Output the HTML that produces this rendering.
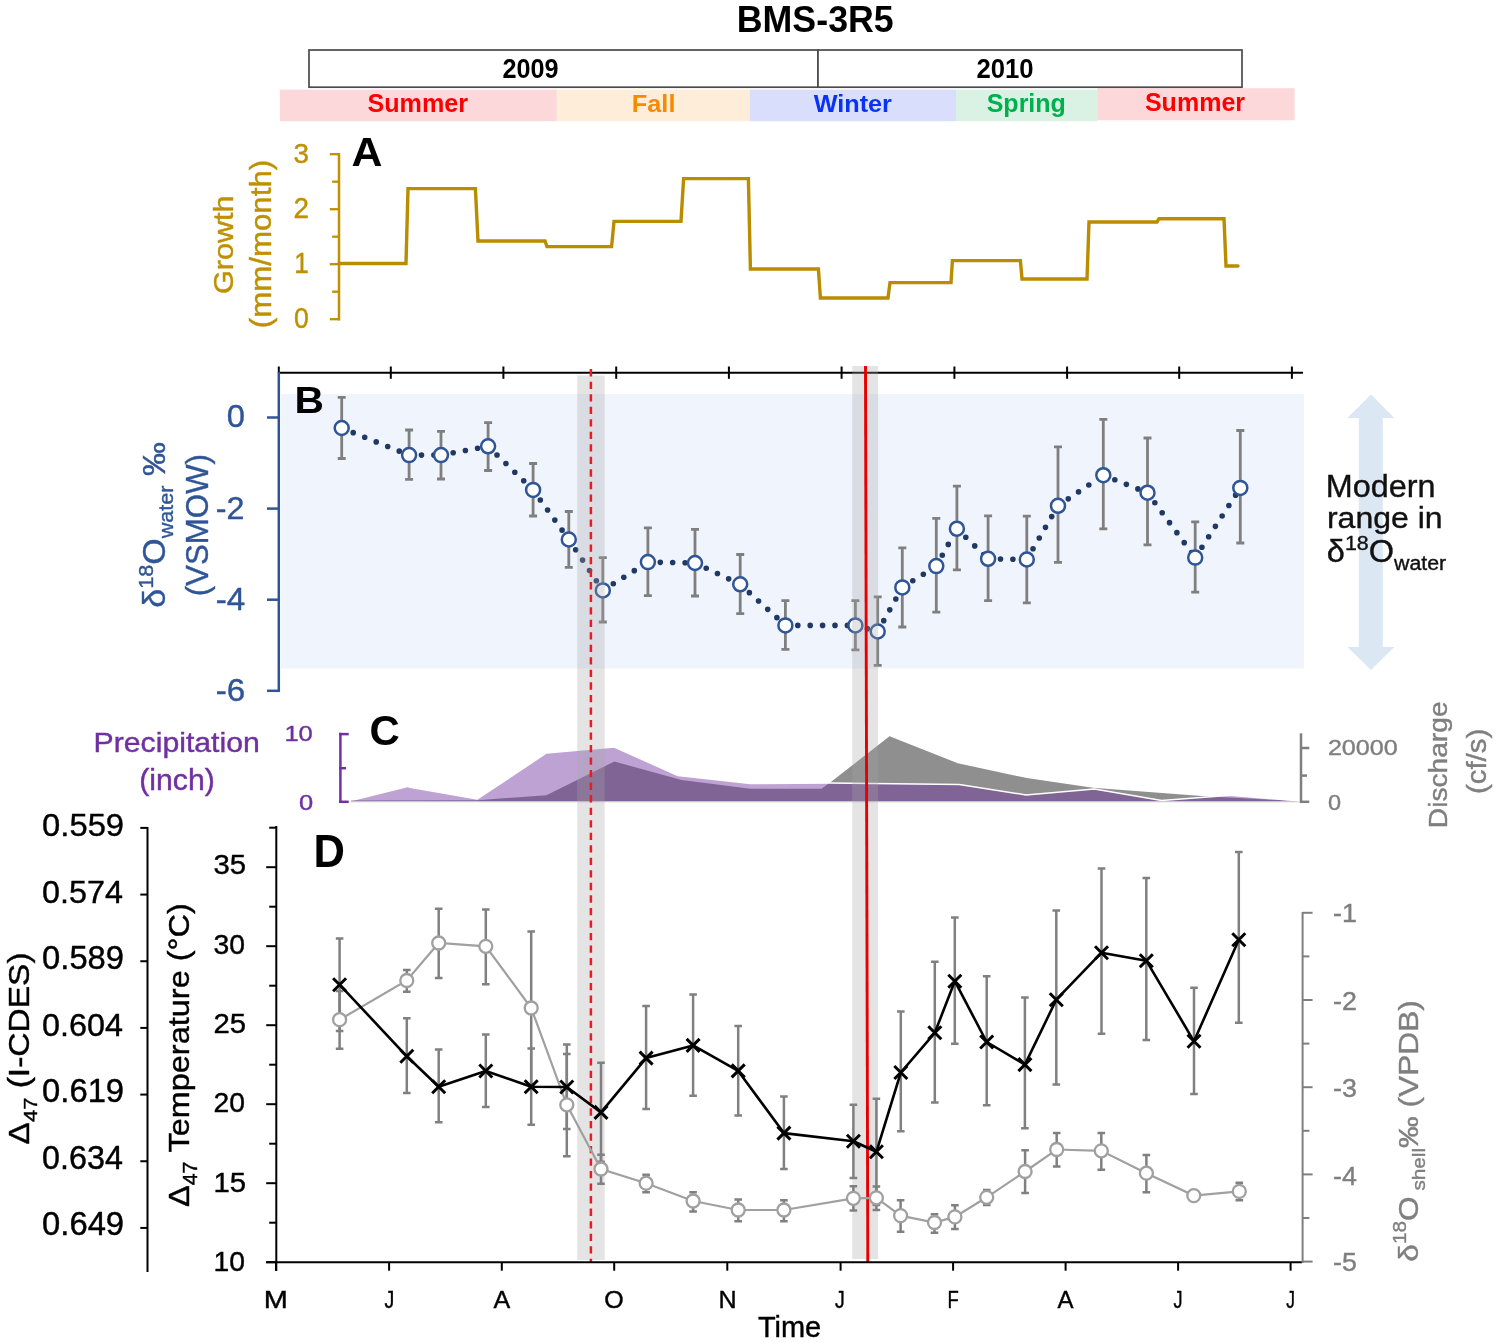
<!DOCTYPE html><html><head><meta charset="utf-8"><title>BMS-3R5</title>
<style>html,body{margin:0;padding:0;background:#fff;overflow:hidden;}svg{display:block;will-change:transform;}text{font-family:"Liberation Sans",sans-serif;}</style></head><body>
<svg width="1499" height="1343" viewBox="0 0 1499 1343">
<rect width="1499" height="1343" fill="#fff"/>
<g transform="matrix(0.9942,0,0,1.0269,339.03,-378.77)"><text x="400" y="400" font-size="36" fill="#000" font-weight="bold" >BMS-3R5</text></g>
<rect x="279.8" y="89.6" width="277.0" height="31.6" fill="#FDD8DB"/>
<rect x="556.8" y="89.6" width="192.8" height="31.6" fill="#FDEDD9"/>
<rect x="749.6" y="89.6" width="206.4" height="31.6" fill="#D9DEFC"/>
<rect x="956" y="89.6" width="141.2" height="31.6" fill="#DAF2E3"/>
<rect x="1097.2" y="88.2" width="197.4" height="32.1" fill="#FDD8DB"/>
<rect x="309" y="50" width="509" height="37.2" fill="#fff" stroke="#4a4a4a" stroke-width="1.7"/>
<rect x="818" y="50" width="424" height="37.2" fill="#fff" stroke="#4a4a4a" stroke-width="1.7"/>
<g transform="matrix(0.9714,0,0,1.0389,113.86,-337.16)"><text x="400" y="400" font-size="26" fill="#000" font-weight="bold" >2009</text></g>
<g transform="matrix(0.9893,0,0,1.0389,580.70,-337.06)"><text x="400" y="400" font-size="26" fill="#000" font-weight="bold" >2010</text></g>
<g transform="matrix(1.0071,0,0,1.0444,-35.44,-305.78)"><text x="400" y="400" font-size="25" fill="#FF0000" font-weight="bold" >Summer</text></g>
<g transform="matrix(1.0150,0,0,0.9737,225.78,-277.07)"><text x="400" y="400" font-size="25" fill="#F68B00" font-weight="bold" >Fall</text></g>
<g transform="matrix(1.0091,0,0,0.9684,410.06,-275.67)"><text x="400" y="400" font-size="25" fill="#0A32F5" font-weight="bold" >Winter</text></g>
<g transform="matrix(1.0000,0,0,1.0000,586.70,-288.30)"><text x="400" y="400" font-size="25" fill="#00B04C" font-weight="bold" >Spring</text></g>
<g transform="matrix(1.0020,0,0,1.0667,744.09,-315.97)"><text x="400" y="400" font-size="25" fill="#FF0000" font-weight="bold" >Summer</text></g>
<line x1="339" y1="153" x2="339" y2="320.5" stroke="#BF9000" stroke-width="2.5"/>
<line x1="329.8" y1="319.2" x2="339" y2="319.2" stroke="#BF9000" stroke-width="2.3"/>
<line x1="332.1" y1="291.7" x2="339" y2="291.7" stroke="#BF9000" stroke-width="2.3"/>
<line x1="329.8" y1="264.2" x2="339" y2="264.2" stroke="#BF9000" stroke-width="2.3"/>
<line x1="332.1" y1="236.7" x2="339" y2="236.7" stroke="#BF9000" stroke-width="2.3"/>
<line x1="329.8" y1="209.2" x2="339" y2="209.2" stroke="#BF9000" stroke-width="2.3"/>
<line x1="332.1" y1="181.7" x2="339" y2="181.7" stroke="#BF9000" stroke-width="2.3"/>
<line x1="329.8" y1="154.2" x2="339" y2="154.2" stroke="#BF9000" stroke-width="2.3"/>
<g transform="matrix(1.0308,0,0,1.0211,-118.84,-245.12)"><text x="400" y="400" font-size="27" fill="#BF9000" font-weight="normal" stroke="#BF9000" stroke-width="0.4" >3</text></g>
<g transform="matrix(1.0308,0,0,1.0632,-118.84,-207.56)"><text x="400" y="400" font-size="27" fill="#BF9000" font-weight="normal" stroke="#BF9000" stroke-width="0.4" >2</text></g>
<g transform="matrix(0.9692,0,0,1.0632,-93.36,-152.46)"><text x="400" y="400" font-size="27" fill="#BF9000" font-weight="normal" stroke="#BF9000" stroke-width="0.4" >1</text></g>
<g transform="matrix(0.9857,0,0,1.0842,-100.19,-106.08)"><text x="400" y="400" font-size="27" fill="#BF9000" font-weight="normal" stroke="#BF9000" stroke-width="0.4" >0</text></g>
<polyline points="339,263.5 406,263.5 408,188.6 475.4,188.6 478,241 545,241 547,246.6 611.6,246.6 614,221.4 681,221.4 683.6,178.6 748.4,178.6 750.4,269 818.4,269 820.4,298 888,298 890,282.6 951,282.6 952.4,260.6 1020.4,260.6 1022,279 1087,279 1089,222 1157,222 1159,218.7 1224,218.7 1226,266 1238,266" fill="none" stroke="#BA8C00" stroke-width="3.4" stroke-linejoin="miter" stroke-linecap="round"/>
<g transform="matrix(1.0704,0,0,1.0357,-76.72,-248.29)"><text x="400" y="400" font-size="40" fill="#000" font-weight="bold" >A</text></g>
<g transform="matrix(1.0048,0,0,1.0920,-168.90,-142.83)"><text transform="translate(400,400) rotate(-90)" font-size="28" fill="#BF9000" font-weight="normal" stroke="#BF9000" stroke-width="0.4">Growth</text></g>
<g transform="matrix(1.0741,0,0,1.1169,-158.67,-118.54)"><text transform="translate(400,400) rotate(-90)" font-size="28" fill="#BF9000" font-weight="normal" stroke="#BF9000" stroke-width="0.4">(mm/month)</text></g>
<rect x="281" y="394" width="1023" height="274.5" fill="#F0F4FC"/>
<polygon points="1371,394.5 1394.3,418 1382.8,418 1382.8,647 1394.3,647 1371,670 1347.4,647 1358.8,647 1358.8,418 1347.4,418" fill="#DCE7F4"/>
<g transform="matrix(1.0114,0,0,0.9957,921.31,98.94)"><text x="400" y="400" font-size="32" fill="#111" font-weight="normal" stroke="#111" stroke-width="0.4" >Modern</text></g>
<g transform="matrix(1.0009,0,0,0.9500,926.55,147.95)"><text x="400" y="400" font-size="32" fill="#111" font-weight="normal" stroke="#111" stroke-width="0.4" >range in</text></g>
<g transform="matrix(1.0162,0,0,0.9882,920.39,166.40)"><text x="400" y="400" font-size="32" fill="#111" font-weight="normal" stroke="#111" stroke-width="0.4" >δ<tspan font-size="21" dy="-12">18</tspan><tspan dy="12">O</tspan><tspan font-size="21" dy="8">water</tspan></text></g>
<line x1="278" y1="372.7" x2="1303" y2="372.7" stroke="#000" stroke-width="2"/>
<line x1="390.8" y1="366.5" x2="390.8" y2="378.8" stroke="#000" stroke-width="2"/>
<line x1="503.4" y1="366.5" x2="503.4" y2="378.8" stroke="#000" stroke-width="2"/>
<line x1="616.2" y1="366.5" x2="616.2" y2="378.8" stroke="#000" stroke-width="2"/>
<line x1="728.9" y1="366.5" x2="728.9" y2="378.8" stroke="#000" stroke-width="2"/>
<line x1="841.6" y1="366.5" x2="841.6" y2="378.8" stroke="#000" stroke-width="2"/>
<line x1="954.4" y1="366.5" x2="954.4" y2="378.8" stroke="#000" stroke-width="2"/>
<line x1="1067.1" y1="366.5" x2="1067.1" y2="378.8" stroke="#000" stroke-width="2"/>
<line x1="1179.2" y1="366.5" x2="1179.2" y2="378.8" stroke="#000" stroke-width="2"/>
<line x1="1291.9" y1="366.5" x2="1291.9" y2="378.8" stroke="#000" stroke-width="2"/>
<line x1="278.8" y1="366.5" x2="278.8" y2="372.7" stroke="#000" stroke-width="2"/>
<line x1="278.8" y1="372" x2="278.8" y2="692" stroke="#2F5597" stroke-width="2.5"/>
<line x1="267" y1="417.5" x2="278.8" y2="417.5" stroke="#2F5597" stroke-width="2.5"/>
<line x1="267" y1="508.6" x2="278.8" y2="508.6" stroke="#2F5597" stroke-width="2.5"/>
<line x1="267" y1="599.7" x2="278.8" y2="599.7" stroke="#2F5597" stroke-width="2.5"/>
<line x1="267" y1="690.8" x2="278.8" y2="690.8" stroke="#2F5597" stroke-width="2.5"/>
<g transform="matrix(1.0563,0,0,0.9955,-195.86,29.12)"><text x="400" y="400" font-size="31" fill="#2F5597" font-weight="normal" stroke="#2F5597" stroke-width="0.4" >0</text></g>
<g transform="matrix(1.0423,0,0,1.0273,-201.17,108.29)"><text x="400" y="400" font-size="31" fill="#2F5597" font-weight="normal" stroke="#2F5597" stroke-width="0.4" >-2</text></g>
<g transform="matrix(1.0692,0,0,0.9864,-211.96,215.55)"><text x="400" y="400" font-size="31" fill="#2F5597" font-weight="normal" stroke="#2F5597" stroke-width="0.4" >-4</text></g>
<g transform="matrix(1.0692,0,0,1.0000,-211.96,301.50)"><text x="400" y="400" font-size="31" fill="#2F5597" font-weight="normal" stroke="#2F5597" stroke-width="0.4" >-6</text></g>
<g transform="matrix(1.1348,0,0,1.0077,-159.48,10.32)"><text x="400" y="400" font-size="36" fill="#000" font-weight="bold" >B</text></g>
<g transform="matrix(0.9778,0,0,1.0296,-225.71,195.91)"><text transform="translate(400,400) rotate(-90)" font-size="33" fill="#2F5597" font-weight="normal" stroke="#2F5597" stroke-width="0.4">δ<tspan font-size="21" dy="-13">18</tspan><tspan dy="13">O</tspan><tspan font-size="21" dy="8">water</tspan><tspan dy="-8"> ‰</tspan></text></g>
<g transform="matrix(0.9437,0,0,0.9469,-169.95,217.52)"><text transform="translate(400,400) rotate(-90)" font-size="33" fill="#2F5597" font-weight="normal" stroke="#2F5597" stroke-width="0.4">(VSMOW)</text></g>
<path d="M341.7,397.3V458.5M337.7,397.3H345.7M337.7,458.5H345.7" stroke="#7F7F7F" stroke-width="2.8" fill="none"/>
<path d="M409.1,430V479.4M405.1,430H413.1M405.1,479.4H413.1" stroke="#7F7F7F" stroke-width="2.8" fill="none"/>
<path d="M441,431.4V479M437,431.4H445M437,479H445" stroke="#7F7F7F" stroke-width="2.8" fill="none"/>
<path d="M488.1,422.7V470.5M484.1,422.7H492.1M484.1,470.5H492.1" stroke="#7F7F7F" stroke-width="2.8" fill="none"/>
<path d="M533.1,463.5V516M529.1,463.5H537.1M529.1,516H537.1" stroke="#7F7F7F" stroke-width="2.8" fill="none"/>
<path d="M568.8,511.5V567.3M564.8,511.5H572.8M564.8,567.3H572.8" stroke="#7F7F7F" stroke-width="2.8" fill="none"/>
<path d="M602.8,557.6V622M598.8,557.6H606.8M598.8,622H606.8" stroke="#7F7F7F" stroke-width="2.8" fill="none"/>
<path d="M647.9,527.9V595.6M643.9,527.9H651.9M643.9,595.6H651.9" stroke="#7F7F7F" stroke-width="2.8" fill="none"/>
<path d="M695,529.3V596M691,529.3H699M691,596H699" stroke="#7F7F7F" stroke-width="2.8" fill="none"/>
<path d="M740.2,554.5V613.6M736.2,554.5H744.2M736.2,613.6H744.2" stroke="#7F7F7F" stroke-width="2.8" fill="none"/>
<path d="M785.4,600.7V649.4M781.4,600.7H789.4M781.4,649.4H789.4" stroke="#7F7F7F" stroke-width="2.8" fill="none"/>
<path d="M855.4,600.7V649.9M851.4,600.7H859.4M851.4,649.9H859.4" stroke="#7F7F7F" stroke-width="2.8" fill="none"/>
<path d="M877.7,596.8V665.3M873.7,596.8H881.7M873.7,665.3H881.7" stroke="#7F7F7F" stroke-width="2.8" fill="none"/>
<path d="M902.3,547.8V627M898.3,547.8H906.3M898.3,627H906.3" stroke="#7F7F7F" stroke-width="2.8" fill="none"/>
<path d="M936.3,518.4V612.1M932.3,518.4H940.3M932.3,612.1H940.3" stroke="#7F7F7F" stroke-width="2.8" fill="none"/>
<path d="M956.9,486.1V569.8M952.9,486.1H960.9M952.9,569.8H960.9" stroke="#7F7F7F" stroke-width="2.8" fill="none"/>
<path d="M988.1,515.8V600.6M984.1,515.8H992.1M984.1,600.6H992.1" stroke="#7F7F7F" stroke-width="2.8" fill="none"/>
<path d="M1026.8,516.2V602.8M1022.8,516.2H1030.8M1022.8,602.8H1030.8" stroke="#7F7F7F" stroke-width="2.8" fill="none"/>
<path d="M1058,446.9V562.4M1054,446.9H1062M1054,562.4H1062" stroke="#7F7F7F" stroke-width="2.8" fill="none"/>
<path d="M1103.3,419.4V528.8M1099.3,419.4H1107.3M1099.3,528.8H1107.3" stroke="#7F7F7F" stroke-width="2.8" fill="none"/>
<path d="M1147.5,438V544.8M1143.5,438H1151.5M1143.5,544.8H1151.5" stroke="#7F7F7F" stroke-width="2.8" fill="none"/>
<path d="M1195.2,521.9V592.2M1191.2,521.9H1199.2M1191.2,592.2H1199.2" stroke="#7F7F7F" stroke-width="2.8" fill="none"/>
<path d="M1240.3,430.5V543M1236.3,430.5H1244.3M1236.3,543H1244.3" stroke="#7F7F7F" stroke-width="2.8" fill="none"/>
<path d="M341.7,428L409.1,455.1M409.1,455.1L441,455.1M441,455.1L488.1,446.3M488.1,446.3L533.1,489.9M533.1,489.9L568.8,539.5M568.8,539.5L602.8,590.4M602.8,590.4L647.9,562.1M647.9,562.1L695,563M695,563L740.2,584.3M740.2,584.3L785.4,625.4M785.4,625.4L855.4,625.4M855.4,625.4L877.7,631.5M877.7,631.5L902.3,587.4M902.3,587.4L936.3,566.1M936.3,566.1L956.9,528.7M956.9,528.7L988.1,558.8M988.1,558.8L1026.8,559.5M1026.8,559.5L1058,505.8M1058,505.8L1103.3,475.2M1103.3,475.2L1147.5,492.7M1147.5,492.7L1195.2,557.6M1195.2,557.6L1240.3,487.9" fill="none" stroke="#1F3864" stroke-width="5.6" stroke-dasharray="0 12.4" stroke-linecap="round"/>
<circle cx="341.7" cy="428" r="7" fill="#fff" stroke="#2F5597" stroke-width="2.5"/>
<circle cx="409.1" cy="455.1" r="7" fill="#fff" stroke="#2F5597" stroke-width="2.5"/>
<circle cx="441" cy="455.1" r="7" fill="#fff" stroke="#2F5597" stroke-width="2.5"/>
<circle cx="488.1" cy="446.3" r="7" fill="#fff" stroke="#2F5597" stroke-width="2.5"/>
<circle cx="533.1" cy="489.9" r="7" fill="#fff" stroke="#2F5597" stroke-width="2.5"/>
<circle cx="568.8" cy="539.5" r="7" fill="#fff" stroke="#2F5597" stroke-width="2.5"/>
<circle cx="602.8" cy="590.4" r="7" fill="#fff" stroke="#2F5597" stroke-width="2.5"/>
<circle cx="647.9" cy="562.1" r="7" fill="#fff" stroke="#2F5597" stroke-width="2.5"/>
<circle cx="695" cy="563" r="7" fill="#fff" stroke="#2F5597" stroke-width="2.5"/>
<circle cx="740.2" cy="584.3" r="7" fill="#fff" stroke="#2F5597" stroke-width="2.5"/>
<circle cx="785.4" cy="625.4" r="7" fill="#fff" stroke="#2F5597" stroke-width="2.5"/>
<circle cx="855.4" cy="625.4" r="7" fill="#fff" stroke="#2F5597" stroke-width="2.5"/>
<circle cx="877.7" cy="631.5" r="7" fill="#fff" stroke="#2F5597" stroke-width="2.5"/>
<circle cx="902.3" cy="587.4" r="7" fill="#fff" stroke="#2F5597" stroke-width="2.5"/>
<circle cx="936.3" cy="566.1" r="7" fill="#fff" stroke="#2F5597" stroke-width="2.5"/>
<circle cx="956.9" cy="528.7" r="7" fill="#fff" stroke="#2F5597" stroke-width="2.5"/>
<circle cx="988.1" cy="558.8" r="7" fill="#fff" stroke="#2F5597" stroke-width="2.5"/>
<circle cx="1026.8" cy="559.5" r="7" fill="#fff" stroke="#2F5597" stroke-width="2.5"/>
<circle cx="1058" cy="505.8" r="7" fill="#fff" stroke="#2F5597" stroke-width="2.5"/>
<circle cx="1103.3" cy="475.2" r="7" fill="#fff" stroke="#2F5597" stroke-width="2.5"/>
<circle cx="1147.5" cy="492.7" r="7" fill="#fff" stroke="#2F5597" stroke-width="2.5"/>
<circle cx="1195.2" cy="557.6" r="7" fill="#fff" stroke="#2F5597" stroke-width="2.5"/>
<circle cx="1240.3" cy="487.9" r="7" fill="#fff" stroke="#2F5597" stroke-width="2.5"/>
<polygon points="351,801.6 351,800.6 477.3,800.2 546.4,795.2 614.3,761.5 681.5,780 750.4,788.7 821.4,788.8 831.5,781.5 889.5,736.3 957.8,763.3 1026.8,778 1092.8,787.7 1201.7,796 1297.7,801 1297.7,801.5" fill="#8F8F8F"/>
<polygon points="351,801.5 351.5,801.3 408.6,787.1 477.3,799 546.4,753 614.3,747.1 678,775.5 750.4,783.6 829,783.1 959.3,784.6 1026,794.9 1094.4,789 1161.7,800.5 1230.5,795.2 1297.7,800.8 1297.7,801.5" fill="#7030A0" fill-opacity="0.45"/>
<polyline points="408.6,787.1 477.3,799 546.4,753 614.3,747.1 678,775.5 750.4,783.6 829,783.1 959.3,784.6 1026,794.9 1094.4,789 1161.7,800.5 1230.5,795.2 1297.7,800.8" fill="none" stroke="#fff" stroke-width="1.5" stroke-linejoin="round"/>
<line x1="349" y1="802" x2="1300" y2="802" stroke="#E3E3E3" stroke-width="1.2"/>
<line x1="340.4" y1="732.8" x2="340.4" y2="803" stroke="#7030A0" stroke-width="2.5"/>
<line x1="339.2" y1="734.1" x2="348.7" y2="734.1" stroke="#7030A0" stroke-width="2.5"/>
<line x1="339.2" y1="768.2" x2="346.1" y2="768.2" stroke="#7030A0" stroke-width="2.5"/>
<line x1="339.2" y1="801.8" x2="348.7" y2="801.8" stroke="#7030A0" stroke-width="2.5"/>
<g transform="matrix(1.1125,0,0,0.9706,-160.61,352.46)"><text x="400" y="400" font-size="23" fill="#7030A0" font-weight="normal" stroke="#7030A0" stroke-width="0.4" >10</text></g>
<g transform="matrix(1.1091,0,0,0.9412,-144.75,433.03)"><text x="400" y="400" font-size="23" fill="#7030A0" font-weight="normal" stroke="#7030A0" stroke-width="0.4" >0</text></g>
<g transform="matrix(1.1193,0,0,1.0385,-354.16,336.38)"><text x="400" y="400" font-size="27" fill="#7030A0" font-weight="normal" stroke="#7030A0" stroke-width="0.4" >Precipitation</text></g>
<g transform="matrix(1.1185,0,0,1.1077,-308.10,347.28)"><text x="400" y="400" font-size="27" fill="#7030A0" font-weight="normal" stroke="#7030A0" stroke-width="0.4" >(inch)</text></g>
<g transform="matrix(1.0481,0,0,1.0571,-49.81,322.14)"><text x="400" y="400" font-size="40" fill="#000" font-weight="bold" >C</text></g>
<line x1="1301" y1="733.3" x2="1301" y2="803" stroke="#7F7F7F" stroke-width="2.5"/>
<line x1="1300" y1="748" x2="1309.3" y2="748" stroke="#7F7F7F" stroke-width="2.5"/>
<line x1="1300" y1="775.6" x2="1307" y2="775.6" stroke="#7F7F7F" stroke-width="2.5"/>
<line x1="1300" y1="801.8" x2="1309.3" y2="801.8" stroke="#7F7F7F" stroke-width="2.5"/>
<g transform="matrix(1.0922,0,0,0.9824,891.03,362.06)"><text x="400" y="400" font-size="23" fill="#7F7F7F" font-weight="normal" stroke="#7F7F7F" stroke-width="0.4" >20000</text></g>
<g transform="matrix(1.0231,0,0,0.9824,918.67,416.96)"><text x="400" y="400" font-size="23" fill="#7F7F7F" font-weight="normal" stroke="#7F7F7F" stroke-width="0.4" >0</text></g>
<g transform="matrix(0.9750,0,0,1.0429,1057.38,411.04)"><text transform="translate(400,400) rotate(-90)" font-size="27" fill="#7F7F7F" font-weight="normal" stroke="#7F7F7F" stroke-width="0.4">Discharge</text></g>
<g transform="matrix(1.0429,0,0,1.0914,1068.96,357.54)"><text transform="translate(400,400) rotate(-90)" font-size="27" fill="#7F7F7F" font-weight="normal" stroke="#7F7F7F" stroke-width="0.4">(cf/s)</text></g>
<rect x="577.2" y="375.4" width="27.5" height="884.6" fill="#A5A5A5" fill-opacity="0.3"/>
<rect x="852.2" y="366" width="25.9" height="893" fill="#A5A5A5" fill-opacity="0.3"/>
<line x1="590.9" y1="369.1" x2="590.9" y2="1262" stroke="#E91C24" stroke-width="2.5" stroke-dasharray="7.3 5.23"/>
<line x1="865.5" y1="366" x2="867.8" y2="1262" stroke="#E80000" stroke-width="2.9"/>
<line x1="147.5" y1="827" x2="147.5" y2="1272" stroke="#000" stroke-width="2"/>
<line x1="140.3" y1="827.9" x2="147.5" y2="827.9" stroke="#000" stroke-width="2"/>
<g transform="matrix(1.0918,0,0,1.0650,-394.60,410.10)"><text x="400" y="400" font-size="30" fill="#000" font-weight="normal" stroke="#000" stroke-width="0.4" >0.559</text></g>
<line x1="140.3" y1="894.5699999999999" x2="147.5" y2="894.5699999999999" stroke="#000" stroke-width="2"/>
<g transform="matrix(1.0770,0,0,1.0650,-388.69,477.30)"><text x="400" y="400" font-size="30" fill="#000" font-weight="normal" stroke="#000" stroke-width="0.4" >0.574</text></g>
<line x1="140.3" y1="961.24" x2="147.5" y2="961.24" stroke="#000" stroke-width="2"/>
<g transform="matrix(1.0918,0,0,1.1000,-394.60,529.50)"><text x="400" y="400" font-size="30" fill="#000" font-weight="normal" stroke="#000" stroke-width="0.4" >0.589</text></g>
<line x1="140.3" y1="1027.9099999999999" x2="147.5" y2="1027.9099999999999" stroke="#000" stroke-width="2"/>
<g transform="matrix(1.0770,0,0,1.0650,-388.69,610.00)"><text x="400" y="400" font-size="30" fill="#000" font-weight="normal" stroke="#000" stroke-width="0.4" >0.604</text></g>
<line x1="140.3" y1="1094.58" x2="147.5" y2="1094.58" stroke="#000" stroke-width="2"/>
<g transform="matrix(1.0918,0,0,1.1150,-394.60,656.50)"><text x="400" y="400" font-size="30" fill="#000" font-weight="normal" stroke="#000" stroke-width="0.4" >0.619</text></g>
<line x1="140.3" y1="1161.25" x2="147.5" y2="1161.25" stroke="#000" stroke-width="2"/>
<g transform="matrix(1.0770,0,0,1.0950,-388.69,731.30)"><text x="400" y="400" font-size="30" fill="#000" font-weight="normal" stroke="#000" stroke-width="0.4" >0.634</text></g>
<line x1="140.3" y1="1227.92" x2="147.5" y2="1227.92" stroke="#000" stroke-width="2"/>
<g transform="matrix(1.0918,0,0,1.0950,-394.60,796.90)"><text x="400" y="400" font-size="30" fill="#000" font-weight="normal" stroke="#000" stroke-width="0.4" >0.649</text></g>
<line x1="276.3" y1="826" x2="276.3" y2="1271" stroke="#000" stroke-width="2"/>
<line x1="266.2" y1="1262.2" x2="276.3" y2="1262.2" stroke="#000" stroke-width="2"/>
<line x1="269.2" y1="1222.7" x2="276.3" y2="1222.7" stroke="#000" stroke-width="2"/>
<line x1="266.2" y1="1183.2" x2="276.3" y2="1183.2" stroke="#000" stroke-width="2"/>
<line x1="269.2" y1="1143.7" x2="276.3" y2="1143.7" stroke="#000" stroke-width="2"/>
<line x1="266.2" y1="1104.2" x2="276.3" y2="1104.2" stroke="#000" stroke-width="2"/>
<line x1="269.2" y1="1064.7" x2="276.3" y2="1064.7" stroke="#000" stroke-width="2"/>
<line x1="266.2" y1="1025.2" x2="276.3" y2="1025.2" stroke="#000" stroke-width="2"/>
<line x1="269.2" y1="985.7" x2="276.3" y2="985.7" stroke="#000" stroke-width="2"/>
<line x1="266.2" y1="946.2" x2="276.3" y2="946.2" stroke="#000" stroke-width="2"/>
<line x1="269.2" y1="906.7" x2="276.3" y2="906.7" stroke="#000" stroke-width="2"/>
<line x1="266.2" y1="867.2" x2="276.3" y2="867.2" stroke="#000" stroke-width="2"/>
<line x1="269.2" y1="827.7" x2="276.3" y2="827.7" stroke="#000" stroke-width="2"/>
<g transform="matrix(1.0483,0,0,1.0105,-205.76,867.29)"><text x="400" y="400" font-size="27" fill="#000" font-weight="normal" stroke="#000" stroke-width="0.4" >10</text></g>
<g transform="matrix(1.0857,0,0,1.0105,-220.77,788.19)"><text x="400" y="400" font-size="27" fill="#000" font-weight="normal" stroke="#000" stroke-width="0.4" >15</text></g>
<g transform="matrix(1.0483,0,0,1.0105,-205.76,708.19)"><text x="400" y="400" font-size="27" fill="#000" font-weight="normal" stroke="#000" stroke-width="0.4" >20</text></g>
<g transform="matrix(1.0857,0,0,1.0105,-220.77,629.09)"><text x="400" y="400" font-size="27" fill="#000" font-weight="normal" stroke="#000" stroke-width="0.4" >25</text></g>
<g transform="matrix(1.0483,0,0,1.0105,-205.76,549.69)"><text x="400" y="400" font-size="27" fill="#000" font-weight="normal" stroke="#000" stroke-width="0.4" >30</text></g>
<g transform="matrix(1.0857,0,0,1.0158,-220.77,468.18)"><text x="400" y="400" font-size="27" fill="#000" font-weight="normal" stroke="#000" stroke-width="0.4" >35</text></g>
<line x1="266" y1="1262.3" x2="1302" y2="1262.3" stroke="#000" stroke-width="2"/>
<line x1="276" y1="1262.3" x2="276" y2="1270.7" stroke="#000" stroke-width="2"/>
<g transform="matrix(1.2056,0,0,1.0176,-218.43,901.14)"><text x="400" y="400" font-size="24" fill="#000" font-weight="normal" stroke="#000" stroke-width="0.4" >M</text></g>
<line x1="389.1" y1="1262.3" x2="389.1" y2="1270.7" stroke="#000" stroke-width="2"/>
<g transform="matrix(0.8182,0,0,1.0176,57.13,901.14)"><text x="400" y="400" font-size="24" fill="#000" font-weight="normal" stroke="#000" stroke-width="0.4" >J</text></g>
<line x1="501.8" y1="1262.3" x2="501.8" y2="1270.7" stroke="#000" stroke-width="2"/>
<g transform="matrix(1.0437,0,0,1.0176,76.00,901.14)"><text x="400" y="400" font-size="24" fill="#000" font-weight="normal" stroke="#000" stroke-width="0.4" >A</text></g>
<line x1="614.2" y1="1262.3" x2="614.2" y2="1270.7" stroke="#000" stroke-width="2"/>
<g transform="matrix(1.0412,0,0,1.0176,187.69,901.14)"><text x="400" y="400" font-size="24" fill="#000" font-weight="normal" stroke="#000" stroke-width="0.4" >O</text></g>
<line x1="727.3" y1="1262.3" x2="727.3" y2="1270.7" stroke="#000" stroke-width="2"/>
<g transform="matrix(1.0467,0,0,1.0176,299.89,901.14)"><text x="400" y="400" font-size="24" fill="#000" font-weight="normal" stroke="#000" stroke-width="0.4" >N</text></g>
<line x1="840.6" y1="1262.3" x2="840.6" y2="1270.7" stroke="#000" stroke-width="2"/>
<g transform="matrix(0.8182,0,0,1.0176,507.73,901.14)"><text x="400" y="400" font-size="24" fill="#000" font-weight="normal" stroke="#000" stroke-width="0.4" >J</text></g>
<line x1="953.1" y1="1262.3" x2="953.1" y2="1270.7" stroke="#000" stroke-width="2"/>
<g transform="matrix(0.7692,0,0,1.0176,639.94,901.14)"><text x="400" y="400" font-size="24" fill="#000" font-weight="normal" stroke="#000" stroke-width="0.4" >F</text></g>
<line x1="1065.6" y1="1262.3" x2="1065.6" y2="1270.7" stroke="#000" stroke-width="2"/>
<g transform="matrix(1.0000,0,0,1.0176,657.50,901.14)"><text x="400" y="400" font-size="24" fill="#000" font-weight="normal" stroke="#000" stroke-width="0.4" >A</text></g>
<line x1="1178.1" y1="1262.3" x2="1178.1" y2="1270.7" stroke="#000" stroke-width="2"/>
<g transform="matrix(0.7545,0,0,1.0176,871.78,901.14)"><text x="400" y="400" font-size="24" fill="#000" font-weight="normal" stroke="#000" stroke-width="0.4" >J</text></g>
<line x1="1290.6" y1="1262.3" x2="1290.6" y2="1270.7" stroke="#000" stroke-width="2"/>
<g transform="matrix(0.7273,0,0,1.0176,995.39,901.14)"><text x="400" y="400" font-size="24" fill="#000" font-weight="normal" stroke="#000" stroke-width="0.4" >J</text></g>
<g transform="matrix(1.0350,0,0,1.0350,343.90,923.20)"><text x="400" y="400" font-size="28" fill="#000" font-weight="normal" stroke="#000" stroke-width="0.4" >Time</text></g>
<line x1="1302.6" y1="911.9" x2="1302.6" y2="1263" stroke="#7F7F7F" stroke-width="2"/>
<line x1="1302.6" y1="912.8" x2="1312.6" y2="912.8" stroke="#7F7F7F" stroke-width="2"/>
<line x1="1302.6" y1="956.4" x2="1309.4" y2="956.4" stroke="#7F7F7F" stroke-width="2"/>
<line x1="1302.6" y1="1000.0" x2="1312.6" y2="1000.0" stroke="#7F7F7F" stroke-width="2"/>
<line x1="1302.6" y1="1043.6" x2="1309.4" y2="1043.6" stroke="#7F7F7F" stroke-width="2"/>
<line x1="1302.6" y1="1087.2" x2="1312.6" y2="1087.2" stroke="#7F7F7F" stroke-width="2"/>
<line x1="1302.6" y1="1130.8" x2="1309.4" y2="1130.8" stroke="#7F7F7F" stroke-width="2"/>
<line x1="1302.6" y1="1174.4" x2="1312.6" y2="1174.4" stroke="#7F7F7F" stroke-width="2"/>
<line x1="1302.6" y1="1218.0" x2="1309.4" y2="1218.0" stroke="#7F7F7F" stroke-width="2"/>
<line x1="1302.6" y1="1261.6" x2="1312.6" y2="1261.6" stroke="#7F7F7F" stroke-width="2"/>
<g transform="matrix(1.0727,0,0,1.0333,903.91,508.87)"><text x="400" y="400" font-size="25" fill="#7F7F7F" font-weight="normal" stroke="#7F7F7F" stroke-width="0.4" >-1</text></g>
<g transform="matrix(1.0727,0,0,1.0389,903.91,594.14)"><text x="400" y="400" font-size="25" fill="#7F7F7F" font-weight="normal" stroke="#7F7F7F" stroke-width="0.4" >-2</text></g>
<g transform="matrix(1.0727,0,0,1.0333,903.91,683.77)"><text x="400" y="400" font-size="25" fill="#7F7F7F" font-weight="normal" stroke="#7F7F7F" stroke-width="0.4" >-3</text></g>
<g transform="matrix(1.0727,0,0,1.0389,903.91,769.04)"><text x="400" y="400" font-size="25" fill="#7F7F7F" font-weight="normal" stroke="#7F7F7F" stroke-width="0.4" >-4</text></g>
<g transform="matrix(1.0727,0,0,1.0389,903.91,855.04)"><text x="400" y="400" font-size="25" fill="#7F7F7F" font-weight="normal" stroke="#7F7F7F" stroke-width="0.4" >-5</text></g>
<g transform="matrix(1.0370,0,0,1.0793,-101.29,435.18)"><text x="400" y="400" font-size="42" fill="#000" font-weight="bold" >D</text></g>
<g transform="matrix(1.0000,0,0,1.1558,-371.50,682.12)"><text transform="translate(400,400) rotate(-90)" font-size="29" fill="#000" font-weight="normal" stroke="#000" stroke-width="0.4">Δ<tspan font-size="19" dy="8">47</tspan><tspan dy="-8"> (I-CDES)</tspan></text></g>
<g transform="matrix(1.0406,0,0,1.1204,-227.52,758.84)"><text transform="translate(400,400) rotate(-90)" font-size="29" fill="#000" font-weight="normal" stroke="#000" stroke-width="0.4">Δ<tspan font-size="19" dy="8">47</tspan><tspan dy="-8"> Temperature (°C)</tspan></text></g>
<g transform="matrix(0.9686,0,0,1.0924,1030.15,824.73)"><text transform="translate(400,400) rotate(-90)" font-size="29" fill="#7F7F7F" font-weight="normal" stroke="#7F7F7F" stroke-width="0.4">δ<tspan font-size="19" dy="-12">18</tspan><tspan dy="12">O</tspan><tspan font-size="19" dy="8"> shell</tspan><tspan dy="-8">‰ (VPDB)</tspan></text></g>
<path d="M339.6,938.5V1031M335.8,938.5H343.40000000000003M335.8,1031H343.40000000000003" stroke="#808080" stroke-width="2.5" fill="none"/>
<path d="M406.8,1018.3V1093M403.0,1018.3H410.6M403.0,1093H410.6" stroke="#808080" stroke-width="2.5" fill="none"/>
<path d="M438.7,1049.6V1122.3M434.9,1049.6H442.5M434.9,1122.3H442.5" stroke="#808080" stroke-width="2.5" fill="none"/>
<path d="M485.8,1034.4V1107M482.0,1034.4H489.6M482.0,1107H489.6" stroke="#808080" stroke-width="2.5" fill="none"/>
<path d="M531.2,1048.5V1124.7M527.4000000000001,1048.5H535.0M527.4000000000001,1124.7H535.0" stroke="#808080" stroke-width="2.5" fill="none"/>
<path d="M566.8,1044.6V1129M563.0,1044.6H570.5999999999999M563.0,1129H570.5999999999999" stroke="#808080" stroke-width="2.5" fill="none"/>
<path d="M601,1062.8V1161.8M597.2,1062.8H604.8M597.2,1161.8H604.8" stroke="#808080" stroke-width="2.5" fill="none"/>
<path d="M646.1,1006.1V1109M642.3000000000001,1006.1H649.9M642.3000000000001,1109H649.9" stroke="#808080" stroke-width="2.5" fill="none"/>
<path d="M693.1,994.5V1095.7M689.3000000000001,994.5H696.9M689.3000000000001,1095.7H696.9" stroke="#808080" stroke-width="2.5" fill="none"/>
<path d="M738.2,1026V1115.4M734.4000000000001,1026H742.0M734.4000000000001,1115.4H742.0" stroke="#808080" stroke-width="2.5" fill="none"/>
<path d="M783.9,1096.4V1169M780.1,1096.4H787.6999999999999M780.1,1169H787.6999999999999" stroke="#808080" stroke-width="2.5" fill="none"/>
<path d="M853.4,1104.7V1178M849.6,1104.7H857.1999999999999M849.6,1178H857.1999999999999" stroke="#808080" stroke-width="2.5" fill="none"/>
<path d="M876.4,1098.7V1204.9M872.6,1098.7H880.1999999999999M872.6,1204.9H880.1999999999999" stroke="#808080" stroke-width="2.5" fill="none"/>
<path d="M900.8,1011.4V1131.2M897.0,1011.4H904.5999999999999M897.0,1131.2H904.5999999999999" stroke="#808080" stroke-width="2.5" fill="none"/>
<path d="M934.8,961.8V1102.5M931.0,961.8H938.5999999999999M931.0,1102.5H938.5999999999999" stroke="#808080" stroke-width="2.5" fill="none"/>
<path d="M954.8,917.5V1043.8M951.0,917.5H958.5999999999999M951.0,1043.8H958.5999999999999" stroke="#808080" stroke-width="2.5" fill="none"/>
<path d="M986.7,976.3V1105.3M982.9000000000001,976.3H990.5M982.9000000000001,1105.3H990.5" stroke="#808080" stroke-width="2.5" fill="none"/>
<path d="M1024.9,997.5V1128.3M1021.1000000000001,997.5H1028.7M1021.1000000000001,1128.3H1028.7" stroke="#808080" stroke-width="2.5" fill="none"/>
<path d="M1056.3,910.4V1084.6M1052.5,910.4H1060.1M1052.5,1084.6H1060.1" stroke="#808080" stroke-width="2.5" fill="none"/>
<path d="M1101.5,868.5V1033.8M1097.7,868.5H1105.3M1097.7,1033.8H1105.3" stroke="#808080" stroke-width="2.5" fill="none"/>
<path d="M1146.3,878V1040M1142.5,878H1150.1M1142.5,1040H1150.1" stroke="#808080" stroke-width="2.5" fill="none"/>
<path d="M1194,987.7V1094M1190.2,987.7H1197.8M1190.2,1094H1197.8" stroke="#808080" stroke-width="2.5" fill="none"/>
<path d="M1238.8,852V1022.7M1235.0,852H1242.6M1235.0,1022.7H1242.6" stroke="#808080" stroke-width="2.5" fill="none"/>
<path d="M339.6,990.9V1048.8M335.8,990.9H343.40000000000003M335.8,1048.8H343.40000000000003" stroke="#808080" stroke-width="2.5" fill="none"/>
<path d="M406.8,970V991.8M403.0,970H410.6M403.0,991.8H410.6" stroke="#808080" stroke-width="2.5" fill="none"/>
<path d="M438.7,908.8V978.1M434.9,908.8H442.5M434.9,978.1H442.5" stroke="#808080" stroke-width="2.5" fill="none"/>
<path d="M485.8,909.5V984.2M482.0,909.5H489.6M482.0,984.2H489.6" stroke="#808080" stroke-width="2.5" fill="none"/>
<path d="M531.2,931.5V1084.5M527.4000000000001,931.5H535.0M527.4000000000001,1084.5H535.0" stroke="#808080" stroke-width="2.5" fill="none"/>
<path d="M566.8,1054V1156.2M563.0,1054H570.5999999999999M563.0,1156.2H570.5999999999999" stroke="#808080" stroke-width="2.5" fill="none"/>
<path d="M601,1154.7V1183.8M597.2,1154.7H604.8M597.2,1183.8H604.8" stroke="#808080" stroke-width="2.5" fill="none"/>
<path d="M646.1,1174.7V1192.3M642.3000000000001,1174.7H649.9M642.3000000000001,1192.3H649.9" stroke="#808080" stroke-width="2.5" fill="none"/>
<path d="M693.1,1192.3V1211.5M689.3000000000001,1192.3H696.9M689.3000000000001,1211.5H696.9" stroke="#808080" stroke-width="2.5" fill="none"/>
<path d="M738.2,1199.4V1221.2M734.4000000000001,1199.4H742.0M734.4000000000001,1221.2H742.0" stroke="#808080" stroke-width="2.5" fill="none"/>
<path d="M783.9,1200.3V1221.2M780.1,1200.3H787.6999999999999M780.1,1221.2H787.6999999999999" stroke="#808080" stroke-width="2.5" fill="none"/>
<path d="M853.4,1186.2V1210.4M849.6,1186.2H857.1999999999999M849.6,1210.4H857.1999999999999" stroke="#808080" stroke-width="2.5" fill="none"/>
<path d="M876.4,1186.6V1210.1M872.6,1186.6H880.1999999999999M872.6,1210.1H880.1999999999999" stroke="#808080" stroke-width="2.5" fill="none"/>
<path d="M900.6,1200.2V1231.8M896.8000000000001,1200.2H904.4M896.8000000000001,1231.8H904.4" stroke="#808080" stroke-width="2.5" fill="none"/>
<path d="M934.5,1214.2V1232.8M930.7,1214.2H938.3M930.7,1232.8H938.3" stroke="#808080" stroke-width="2.5" fill="none"/>
<path d="M954.9,1205.2V1229.1M951.1,1205.2H958.6999999999999M951.1,1229.1H958.6999999999999" stroke="#808080" stroke-width="2.5" fill="none"/>
<path d="M986.7,1190V1205M982.9000000000001,1190H990.5M982.9000000000001,1205H990.5" stroke="#808080" stroke-width="2.5" fill="none"/>
<path d="M1025.1,1150.2V1192.9M1021.3,1150.2H1028.8999999999999M1021.3,1192.9H1028.8999999999999" stroke="#808080" stroke-width="2.5" fill="none"/>
<path d="M1056.7,1133.1V1166.6M1052.9,1133.1H1060.5M1052.9,1166.6H1060.5" stroke="#808080" stroke-width="2.5" fill="none"/>
<path d="M1101.3,1133.1V1169.8M1097.5,1133.1H1105.1M1097.5,1169.8H1105.1" stroke="#808080" stroke-width="2.5" fill="none"/>
<path d="M1146.4,1155.1V1192.2M1142.6000000000001,1155.1H1150.2M1142.6000000000001,1192.2H1150.2" stroke="#808080" stroke-width="2.5" fill="none"/>
<path d="M1239.3,1182.8V1200.3M1235.5,1182.8H1243.1M1235.5,1200.3H1243.1" stroke="#808080" stroke-width="2.5" fill="none"/>
<polyline points="339.6,1019.7 406.8,980.5 438.7,943 485.8,946.3 531.2,1008 566.8,1104.8 601,1169 646.1,1183.2 693.1,1201 738.2,1210 783.9,1210 853.4,1198.3 876.4,1197.8 900.6,1215.6 934.5,1222.5 954.9,1216.9 986.7,1197.3 1025.1,1171.5 1056.7,1149.5 1101.3,1150.8 1146.4,1173.2 1193.8,1195.6 1239.3,1191.4" fill="none" stroke="#A0A0A0" stroke-width="2.2"/>
<circle cx="339.6" cy="1019.7" r="6.5" fill="#fff" stroke="#A0A0A0" stroke-width="2.3"/>
<circle cx="406.8" cy="980.5" r="6.5" fill="#fff" stroke="#A0A0A0" stroke-width="2.3"/>
<circle cx="438.7" cy="943" r="6.5" fill="#fff" stroke="#A0A0A0" stroke-width="2.3"/>
<circle cx="485.8" cy="946.3" r="6.5" fill="#fff" stroke="#A0A0A0" stroke-width="2.3"/>
<circle cx="531.2" cy="1008" r="6.5" fill="#fff" stroke="#A0A0A0" stroke-width="2.3"/>
<circle cx="566.8" cy="1104.8" r="6.5" fill="#fff" stroke="#A0A0A0" stroke-width="2.3"/>
<circle cx="601" cy="1169" r="6.5" fill="#fff" stroke="#A0A0A0" stroke-width="2.3"/>
<circle cx="646.1" cy="1183.2" r="6.5" fill="#fff" stroke="#A0A0A0" stroke-width="2.3"/>
<circle cx="693.1" cy="1201" r="6.5" fill="#fff" stroke="#A0A0A0" stroke-width="2.3"/>
<circle cx="738.2" cy="1210" r="6.5" fill="#fff" stroke="#A0A0A0" stroke-width="2.3"/>
<circle cx="783.9" cy="1210" r="6.5" fill="#fff" stroke="#A0A0A0" stroke-width="2.3"/>
<circle cx="853.4" cy="1198.3" r="6.5" fill="#fff" stroke="#A0A0A0" stroke-width="2.3"/>
<circle cx="876.4" cy="1197.8" r="6.5" fill="#fff" stroke="#A0A0A0" stroke-width="2.3"/>
<circle cx="900.6" cy="1215.6" r="6.5" fill="#fff" stroke="#A0A0A0" stroke-width="2.3"/>
<circle cx="934.5" cy="1222.5" r="6.5" fill="#fff" stroke="#A0A0A0" stroke-width="2.3"/>
<circle cx="954.9" cy="1216.9" r="6.5" fill="#fff" stroke="#A0A0A0" stroke-width="2.3"/>
<circle cx="986.7" cy="1197.3" r="6.5" fill="#fff" stroke="#A0A0A0" stroke-width="2.3"/>
<circle cx="1025.1" cy="1171.5" r="6.5" fill="#fff" stroke="#A0A0A0" stroke-width="2.3"/>
<circle cx="1056.7" cy="1149.5" r="6.5" fill="#fff" stroke="#A0A0A0" stroke-width="2.3"/>
<circle cx="1101.3" cy="1150.8" r="6.5" fill="#fff" stroke="#A0A0A0" stroke-width="2.3"/>
<circle cx="1146.4" cy="1173.2" r="6.5" fill="#fff" stroke="#A0A0A0" stroke-width="2.3"/>
<circle cx="1193.8" cy="1195.6" r="6.5" fill="#fff" stroke="#A0A0A0" stroke-width="2.3"/>
<circle cx="1239.3" cy="1191.4" r="6.5" fill="#fff" stroke="#A0A0A0" stroke-width="2.3"/>
<polyline points="339.6,984.7 406.8,1056.3 438.7,1086.7 485.8,1071 531.2,1086.7 566.8,1087 601,1112.4 646.1,1058.1 693.1,1045.4 738.2,1070.9 783.9,1133.1 853.4,1141.2 876.4,1151.8 900.8,1072.5 934.8,1032.8 954.8,981.2 986.7,1042 1024.9,1064.6 1056.3,999.7 1101.5,952.7 1146.3,960.7 1194,1041.3 1238.8,939.7" fill="none" stroke="#000" stroke-width="2.6" stroke-linejoin="round"/>
<path d="M333.1,978.2L346.1,991.2M333.1,991.2L346.1,978.2" stroke="#000" stroke-width="3"/>
<path d="M400.3,1049.8L413.3,1062.8M400.3,1062.8L413.3,1049.8" stroke="#000" stroke-width="3"/>
<path d="M432.2,1080.2L445.2,1093.2M432.2,1093.2L445.2,1080.2" stroke="#000" stroke-width="3"/>
<path d="M479.3,1064.5L492.3,1077.5M479.3,1077.5L492.3,1064.5" stroke="#000" stroke-width="3"/>
<path d="M524.7,1080.2L537.7,1093.2M524.7,1093.2L537.7,1080.2" stroke="#000" stroke-width="3"/>
<path d="M560.3,1080.5L573.3,1093.5M560.3,1093.5L573.3,1080.5" stroke="#000" stroke-width="3"/>
<path d="M594.5,1105.9L607.5,1118.9M594.5,1118.9L607.5,1105.9" stroke="#000" stroke-width="3"/>
<path d="M639.6,1051.6L652.6,1064.6M639.6,1064.6L652.6,1051.6" stroke="#000" stroke-width="3"/>
<path d="M686.6,1038.9L699.6,1051.9M686.6,1051.9L699.6,1038.9" stroke="#000" stroke-width="3"/>
<path d="M731.7,1064.4L744.7,1077.4M731.7,1077.4L744.7,1064.4" stroke="#000" stroke-width="3"/>
<path d="M777.4,1126.6L790.4,1139.6M777.4,1139.6L790.4,1126.6" stroke="#000" stroke-width="3"/>
<path d="M846.9,1134.7L859.9,1147.7M846.9,1147.7L859.9,1134.7" stroke="#000" stroke-width="3"/>
<path d="M869.9,1145.3L882.9,1158.3M869.9,1158.3L882.9,1145.3" stroke="#000" stroke-width="3"/>
<path d="M894.3,1066.0L907.3,1079.0M894.3,1079.0L907.3,1066.0" stroke="#000" stroke-width="3"/>
<path d="M928.3,1026.3L941.3,1039.3M928.3,1039.3L941.3,1026.3" stroke="#000" stroke-width="3"/>
<path d="M948.3,974.7L961.3,987.7M948.3,987.7L961.3,974.7" stroke="#000" stroke-width="3"/>
<path d="M980.2,1035.5L993.2,1048.5M980.2,1048.5L993.2,1035.5" stroke="#000" stroke-width="3"/>
<path d="M1018.4000000000001,1058.1L1031.4,1071.1M1018.4000000000001,1071.1L1031.4,1058.1" stroke="#000" stroke-width="3"/>
<path d="M1049.8,993.2L1062.8,1006.2M1049.8,1006.2L1062.8,993.2" stroke="#000" stroke-width="3"/>
<path d="M1095.0,946.2L1108.0,959.2M1095.0,959.2L1108.0,946.2" stroke="#000" stroke-width="3"/>
<path d="M1139.8,954.2L1152.8,967.2M1139.8,967.2L1152.8,954.2" stroke="#000" stroke-width="3"/>
<path d="M1187.5,1034.8L1200.5,1047.8M1187.5,1047.8L1200.5,1034.8" stroke="#000" stroke-width="3"/>
<path d="M1232.3,933.2L1245.3,946.2M1232.3,946.2L1245.3,933.2" stroke="#000" stroke-width="3"/>
</svg></body></html>
